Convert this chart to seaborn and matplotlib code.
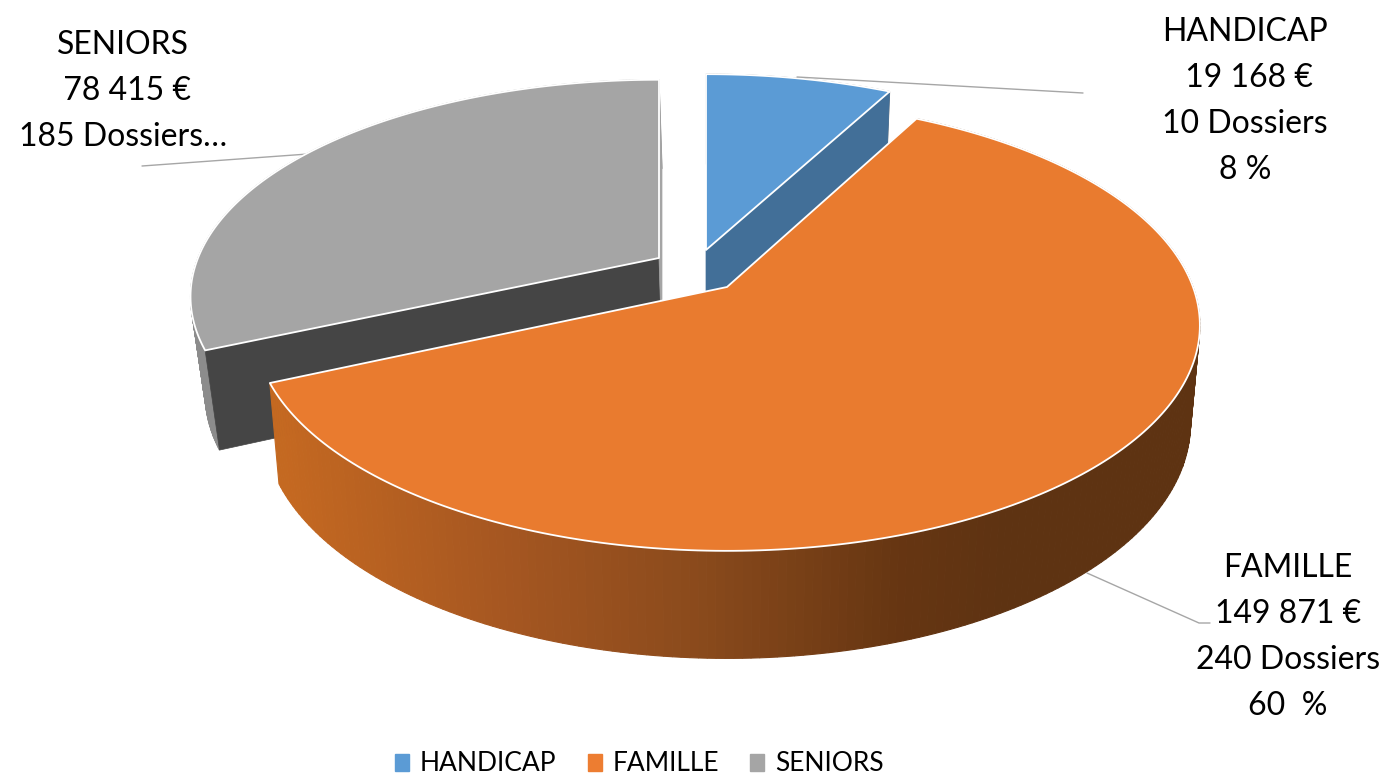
import numpy as np
import seaborn as sns
import matplotlib.pyplot as plt
from matplotlib.patches import Patch

categories = ["HANDICAP", "FAMILLE", "SENIORS"]
amounts = [19168, 149871, 78415]
label_lines = [
    ["HANDICAP", " 19 168 €", "10 Dossiers", "8 %"],
    ["FAMILLE", "149 871 €", "240 Dossiers", "60  %"],
    ["SENIORS", " 78 415 €", "185 Dossiers…"],
]
legend_colors = ["#5B9BD5", "#ED7D31", "#A5A5A5"]
top_colors = ["#5B9BD5", "#E97B2F", "#A5A5A5"]
face_colors = ["#426F98", "#5F3212", "#454545"]

# layout of each exploded slice in pixels: apex, radii, perspective, depth, bottom plane scale
geometry = {
    "HANDICAP": dict(cx=706, cy=250, a=462, b=211, k=0.2, depth=97, shift=0, shrink=0.98),
    "FAMILLE": dict(cx=727, cy=287, a=466, b=219, k=0.17, depth=97, shift=0, shrink=0.98),
    "SENIORS": dict(cx=659, cy=258, a=461, b=210, k=0.178, depth=96, shift=3, shrink=0.975),
}
label_pos = {"HANDICAP": (1245, 32), "FAMILLE": (1288, 568), "SENIORS": (123, 45)}
leaders = {
    "HANDICAP": [(797, 77), (1083, 93)],
    "FAMILLE": [(1087, 573), (1199, 623), (1210, 623)],
    "SENIORS": [(308, 154), (142, 166)],
}


def project(g, angle, radius=1.0, bottom=False):
    # angle is clockwise from 12 o'clock, in degrees
    u = radius * np.sin(np.radians(angle))
    v = radius * np.cos(np.radians(angle))
    denom = 1 + g["k"] * v
    x = g["a"] * u / denom
    y = -g["b"] * v / denom
    if bottom:
        return g["cx"] + g["shift"] + x * g["shrink"], g["cy"] + g["depth"] + y * 1.04
    return g["cx"] + x, g["cy"] + y


def wall_color(name, x):
    if name == "FAMILLE":
        xs = [280, 500, 700, 900, 1000]
        rgb = [(0.77, 0.41, 0.13), (0.65, 0.34, 0.13), (0.54, 0.29, 0.11),
               (0.40, 0.21, 0.07), (0.37, 0.20, 0.07)]
        return tuple(np.interp(x, xs, [c[i] for c in rgb]) for i in range(3))
    return "#8C8C8C"


def draw_slice(ax, name, start, end, top_color, cut_faces):
    g = geometry[name]
    angles = np.linspace(start, end, 240)

    # outer wall, small quads so the colour can change along it
    for a0, a1 in zip(angles[:-1], angles[1:]):
        quad = [project(g, a0), project(g, a1), project(g, a1, bottom=True), project(g, a0, bottom=True)]
        color = wall_color(name, (quad[0][0] + quad[1][0]) / 2)
        ax.fill(*zip(*quad), color=color, lw=0.8, zorder=1)

    for angle, color in cut_faces:
        face = [project(g, 0, 0), project(g, angle), project(g, angle, bottom=True), project(g, 0, 0, bottom=True)]
        ax.fill(*zip(*face), color=color, lw=0.5, zorder=1)

    outline = [project(g, 0, 0)] + [project(g, t) for t in angles]
    ax.fill(*zip(*outline), facecolor=top_color, edgecolor="white", lw=1.3, joinstyle="round", zorder=1)


sns.set_theme(style="white")
plt.rcParams["font.family"] = ["Lato", "DejaVu Sans"]

fig, ax = plt.subplots(figsize=(13.86, 7.78), dpi=100)
ax.set_position([0, 0, 1, 1])
ax.set_xlim(0, 1386)
ax.set_ylim(778, 0)
ax.axis("off")

shares = np.array(amounts) / sum(amounts) * 360
ends = np.cumsum(shares)
starts = ends - shares

# back to front, only the cut faces that can be seen
draw_slice(ax, "HANDICAP", starts[0], ends[0], top_colors[0], [(ends[0], face_colors[0])])
draw_slice(ax, "SENIORS", starts[2], ends[2], top_colors[2], [(starts[2], face_colors[2]), (ends[2], top_colors[2])])
draw_slice(ax, "FAMILLE", starts[1], ends[1], top_colors[1], [])

for name in categories:
    xs, ys = zip(*leaders[name])
    ax.plot(xs, ys, color="#A6A6A6", lw=1, zorder=0.5 if name == "SENIORS" else 3)

for name, lines in zip(categories, label_lines):
    x, y = label_pos[name]
    for j, line in enumerate(lines):
        ax.text(x, y + j * 46, line, ha="center", va="center", fontsize=23, color="black", zorder=4)

handles = [Patch(color=c, label=n) for c, n in zip(legend_colors, categories)]
ax.legend(handles=handles, loc="lower left", bbox_to_anchor=(395 / 1386, 0.002), ncol=3, frameon=False, borderpad=0,
          borderaxespad=0, fontsize=19, labelcolor="black", handlelength=0.53,
          handleheight=0.6, handletextpad=0.42, columnspacing=1.18)

plt.savefig("out.png", dpi=100)
